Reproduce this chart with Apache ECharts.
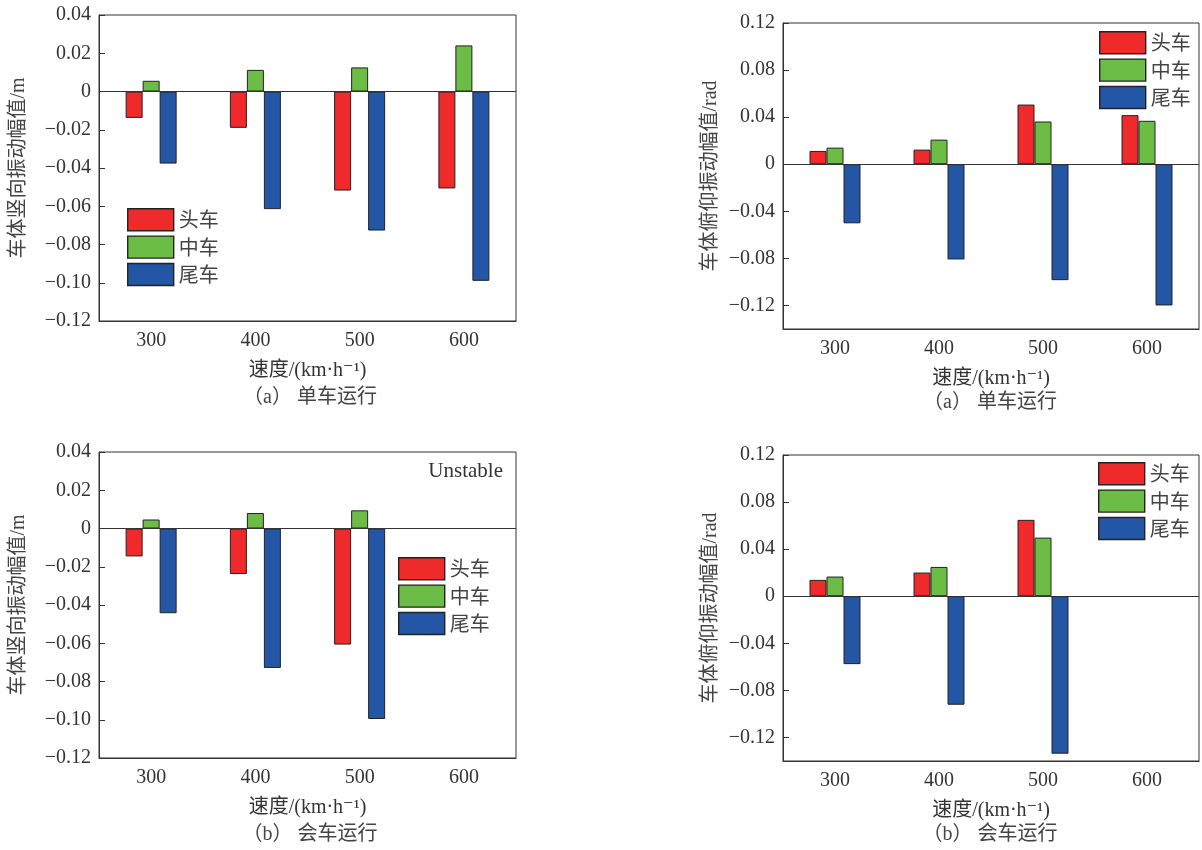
<!DOCTYPE html>
<html>
<head>
<meta charset="utf-8">
<script src="https://cdn.jsdelivr.net/npm/echarts@6/dist/echarts.min.js"></script>
<style>
html,body{margin:0;padding:0;background:#fff;}
#c{width:1202px;height:850px;}
</style>
</head>
<body>
<div id="c"></div>
<script>
// ---------- data ----------
const categories = ['300', '400', '500', '600'];
const seriesNames = ['头车', '中车', '尾车'];

// (a) single running - vertical amplitude (m)
const vertSingleHead = [-0.0138, -0.0190, -0.0518, -0.0507];
const vertSingleMid  = [0.0056, 0.0113, 0.0126, 0.0241];
const vertSingleTail = [-0.0377, -0.0615, -0.0727, -0.0990];

// (a) single running - pitch amplitude (rad)
const pitchSingleHead = [0.0113, 0.0124, 0.0507, 0.0417];
const pitchSingleMid  = [0.0141, 0.0209, 0.0363, 0.0369];
const pitchSingleTail = [-0.0502, -0.0809, -0.0985, -0.1200];

// (b) meeting running - vertical amplitude (m)
const vertMeetHead = [-0.0146, -0.0238, -0.0607, null];
const vertMeetMid  = [0.0047, 0.0081, 0.0095, null];
const vertMeetTail = [-0.0443, -0.0729, -0.0996, null];

// (b) meeting running - pitch amplitude (rad)
const pitchMeetHead = [0.0139, 0.0201, 0.0649, null];
const pitchMeetMid  = [0.0167, 0.0249, 0.0498, null];
const pitchMeetTail = [-0.0577, -0.0922, -0.1338, null];

// tick values
const vertTicks  = [-0.12, -0.10, -0.08, -0.06, -0.04, -0.02, 0, 0.02, 0.04];
const pitchTicks = [-0.12, -0.08, -0.04, 0, 0.04, 0.08, 0.12];

// ---------- style ----------
const colors = ['#EE2A2A', '#6CBD45', '#2356A5'];
const serif = '"Liberation Serif", "DejaVu Serif", "Noto Sans CJK SC", serif';
const txt = '#333';

const grids = [
  {left: 99,  top: 15,  width: 417, height: 306},
  {left: 783, top: 23,  width: 416, height: 306},
  {left: 99,  top: 452, width: 417, height: 306},
  {left: 783, top: 455, width: 416, height: 306}
];

function fmt(v) {
  if (Math.abs(v) < 1e-9) return '0';
  return (v < 0 ? '\u2212' : '') + Math.abs(v).toFixed(2);
}

const yConf = [
  {name: '车体竖向振动幅值/m',   min: -0.12, max: 0.04, ticks: vertTicks,  gap: 70},
  {name: '车体俯仰振动幅值/rad', min: -0.14, max: 0.12, ticks: pitchTicks, gap: 62},
  {name: '车体竖向振动幅值/m',   min: -0.12, max: 0.04, ticks: vertTicks,  gap: 70},
  {name: '车体俯仰振动幅值/rad', min: -0.14, max: 0.12, ticks: pitchTicks, gap: 62}
];

const dataSets = [
  [vertSingleHead, vertSingleMid, vertSingleTail],
  [pitchSingleHead, pitchSingleMid, pitchSingleTail],
  [vertMeetHead, vertMeetMid, vertMeetTail],
  [pitchMeetHead, pitchMeetMid, pitchMeetTail]
];

const xAxes = grids.map((g, i) => ({
  type: 'category', gridIndex: i, data: categories,
  boundaryGap: true,
  name: '速度/(km·h⁻¹)', nameLocation: 'middle', nameGap: 40,
  nameTextStyle: {fontFamily: serif, fontSize: 20, color: txt},
  axisLine: {onZero: false, lineStyle: {color: '#333', width: 1}},
  axisTick: {inside: true, alignWithLabel: true, length: 7, lineStyle: {color: '#333'}},
  axisLabel: {fontFamily: serif, fontSize: 20, color: txt, margin: 10},
  splitLine: {show: false}
}));

const yAxes = yConf.map((c, i) => ({
  type: 'value', gridIndex: i, min: c.min, max: c.max,
  name: c.name, nameLocation: 'middle', nameGap: c.gap, nameRotate: 90,
  nameTextStyle: {fontFamily: serif, fontSize: 20, color: '#444'},
  axisLine: {show: true, lineStyle: {color: '#333', width: 1}},
  axisTick: {show: true, inside: true, length: 6, customValues: c.ticks, lineStyle: {color: '#333'}},
  axisLabel: {fontFamily: serif, fontSize: 20, color: txt, margin: 8, customValues: c.ticks, formatter: fmt},
  splitLine: {show: false}
}));

const series = [];
dataSets.forEach((ds, gi) => {
  ds.forEach((arr, si) => {
    const s = {
      type: 'bar', name: seriesNames[si],
      xAxisIndex: gi, yAxisIndex: gi,
      data: arr, barWidth: 17, barGap: '0%',
      itemStyle: {color: colors[si], borderColor: '#222', borderWidth: 1},
      emphasis: {disabled: true}
    };
    if (si === 0) {
      s.markLine = {
        silent: true, symbol: 'none', animation: false,
        label: {show: false},
        lineStyle: {color: '#333', width: 1, type: 'solid'},
        data: [{yAxis: 0}]
      };
    }
    series.push(s);
  });
});

const legendPos = [
  {left: 127, top: 208},
  {left: 1099, top: 31},
  {left: 398, top: 557},
  {left: 1098, top: 462}
];
const legends = legendPos.map(p => ({
  left: p.left, top: p.top, orient: 'vertical', padding: 0,
  data: seriesNames, itemWidth: 46, itemHeight: 22, itemGap: 4,
  icon: 'rect', selectedMode: false,
  itemStyle: {borderColor: '#222', borderWidth: 1.4},
  textStyle: {fontFamily: '"Noto Sans CJK SC", sans-serif', fontSize: 20, color: '#444', padding: [0, 0, 0, 0]}
}));

const subtitles = [
  {x: 310, y: 398, t: '（a） 单车运行'},
  {x: 990, y: 403, t: '（a） 单车运行'},
  {x: 310, y: 835, t: '（b） 会车运行'},
  {x: 990, y: 835, t: '（b） 会车运行'}
];
const graphics = subtitles.map(s => ({
  type: 'text', x: s.x, y: s.y,
  style: {text: s.t, fill: '#444', font: '20px ' + serif, textAlign: 'center', textVerticalAlign: 'middle'}
}));
graphics.push({
  type: 'text', x: 503, y: 471,
  style: {text: 'Unstable', fill: txt, font: '21px ' + serif, textAlign: 'right', textVerticalAlign: 'middle'}
});

const chart = echarts.init(document.getElementById('c'), null, {renderer: 'canvas'});
chart.setOption({
  animation: false,
  backgroundColor: '#fff',
  grid: grids.map(g => Object.assign({show: true, borderColor: '#333', borderWidth: 1, containLabel: false}, g)),
  xAxis: xAxes,
  yAxis: yAxes,
  legend: legends,
  series: series,
  graphic: graphics
});
</script>
</body>
</html>
